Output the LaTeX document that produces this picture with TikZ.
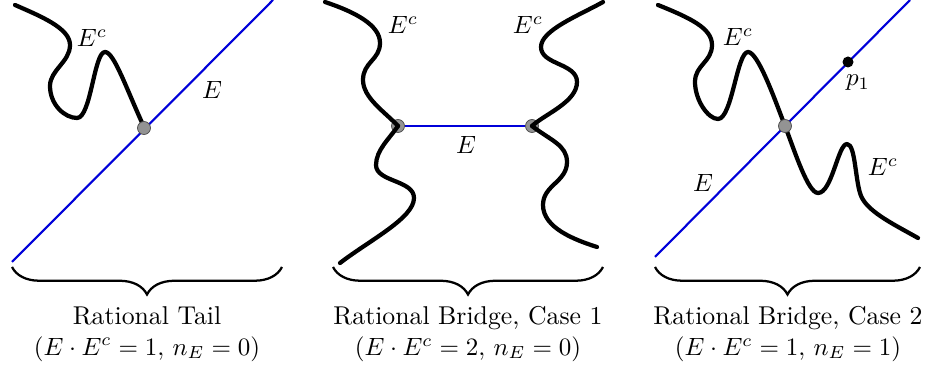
\documentclass[tikz,border=0pt]{standalone}
\usetikzlibrary{decorations.pathreplacing}
\begin{document}
\begin{tikzpicture}[x=0.4pt,y=-0.4pt,
  curve/.style={line width=1.7pt,line join=round,line cap=round},
  eline/.style={blue!85!black,line width=0.85pt},
  gdot/.style={circle,fill=gray!85,draw=gray!60!black,line width=0.3pt,inner sep=0pt,minimum size=5.2pt},
  bdot/.style={circle,fill=black,inner sep=0pt,minimum size=4.4pt},
  lbl/.style={inner sep=1pt},
  bracestyle/.style={decorate,decoration={brace,mirror,amplitude=11pt},line width=0.9pt},
  captext/.style={align=center,font=\fontsize{10.3pt}{12.2pt}\selectfont}]
\useasboundingbox (0,0) rectangle (927,370);

% ---------- Panel 1: Rational Tail ----------
\coordinate (a1) at (12,262);
\coordinate (a2) at (273,0);
\draw[eline] (a1) -- (a2);
\draw[curve] (15,5) .. controls (40,16) and (70,28) .. (70,45)
  .. controls (70,62) and (50,70) .. (50,86)
  .. controls (50,105) and (65,118) .. (77,118)
  .. controls (91,118) and (94,52) .. (105,52)
  .. controls (114,52) and (126,88) .. (144,127);
\node[gdot] (d1) at (144,128) {};
\node[lbl] (ec1) at (92,38) {$E^c$};
\node[lbl] (e1) at (212,90) {$E$};

% ---------- Panel 2: Rational Bridge, Case 1 ----------
\node[gdot] (d2) at (398,126) {};
\node[gdot] (d3) at (532,126) {};
\draw[eline] (d2) -- (d3);
\draw[curve] (325,2) .. controls (355,12) and (380,25) .. (380,43)
  .. controls (380,60) and (363,62) .. (363,80)
  .. controls (363,98) and (385,112) .. (398,126);
\draw[curve] (398,126) .. controls (390,138) and (376,150) .. (376,165)
  .. controls (376,182) and (414,180) .. (414,198)
  .. controls (414,218) and (370,240) .. (340,263);
\draw[curve] (603,2) .. controls (580,15) and (541,30) .. (541,47)
  .. controls (541,65) and (577,63) .. (577,82)
  .. controls (577,102) and (545,114) .. (532,126);
\draw[curve] (532,126) .. controls (550,140) and (567,145) .. (567,162)
  .. controls (567,182) and (543,185) .. (543,205)
  .. controls (543,228) and (575,240) .. (597,247);
\node[lbl] (ec2) at (403,25) {$E^c$};
\node[lbl] (ec3) at (528,25) {$E^c$};
\node[lbl] (e2) at (466,145) {$E$};

% ---------- Panel 3: Rational Bridge, Case 2 ----------
\coordinate (b1) at (655,257);
\coordinate (b2) at (910,0);
\draw[eline] (b1) -- (b2);
\draw[curve] (658,5) .. controls (690,18) and (712,28) .. (712,45)
  .. controls (712,62) and (695,65) .. (695,82)
  .. controls (695,100) and (708,119) .. (718,119)
  .. controls (732,119) and (737,52) .. (748,52)
  .. controls (758,52) and (775,100) .. (785,126)
  .. controls (795,152) and (808,193) .. (818,193)
  .. controls (832,193) and (838,144) .. (847,144)
  .. controls (856,144) and (855,185) .. (862,198)
  .. controls (870,213) and (895,225) .. (918,238);
\node[gdot] (d4) at (785,126) {};
\node[bdot] (p1) at (848,62) {};
\node[lbl] (p1l) at (858,83) {$p_1$};
\node[lbl] (ec4) at (738,37) {$E^c$};
\node[lbl] (ec5) at (883,167) {$E^c$};
\node[lbl] (e3) at (703,183) {$E$};

% ---------- Braces and captions ----------
\draw[bracestyle] (12,267) -- (282,267);
\draw[bracestyle] (333,267) -- (603,267);
\draw[bracestyle] (655,267) -- (920,267);
\node[captext] (c1) at (147,334) {Rational Tail\\$(E\cdot E^c=1,\, n_E=0)$};
\node[captext] (c2) at (468,334) {Rational Bridge, Case 1\\$(E\cdot E^c=2,\, n_E=0)$};
\node[captext] (c3) at (788,334) {Rational Bridge, Case 2\\$(E\cdot E^c=1,\, n_E=1)$};
\end{tikzpicture}
\end{document}
